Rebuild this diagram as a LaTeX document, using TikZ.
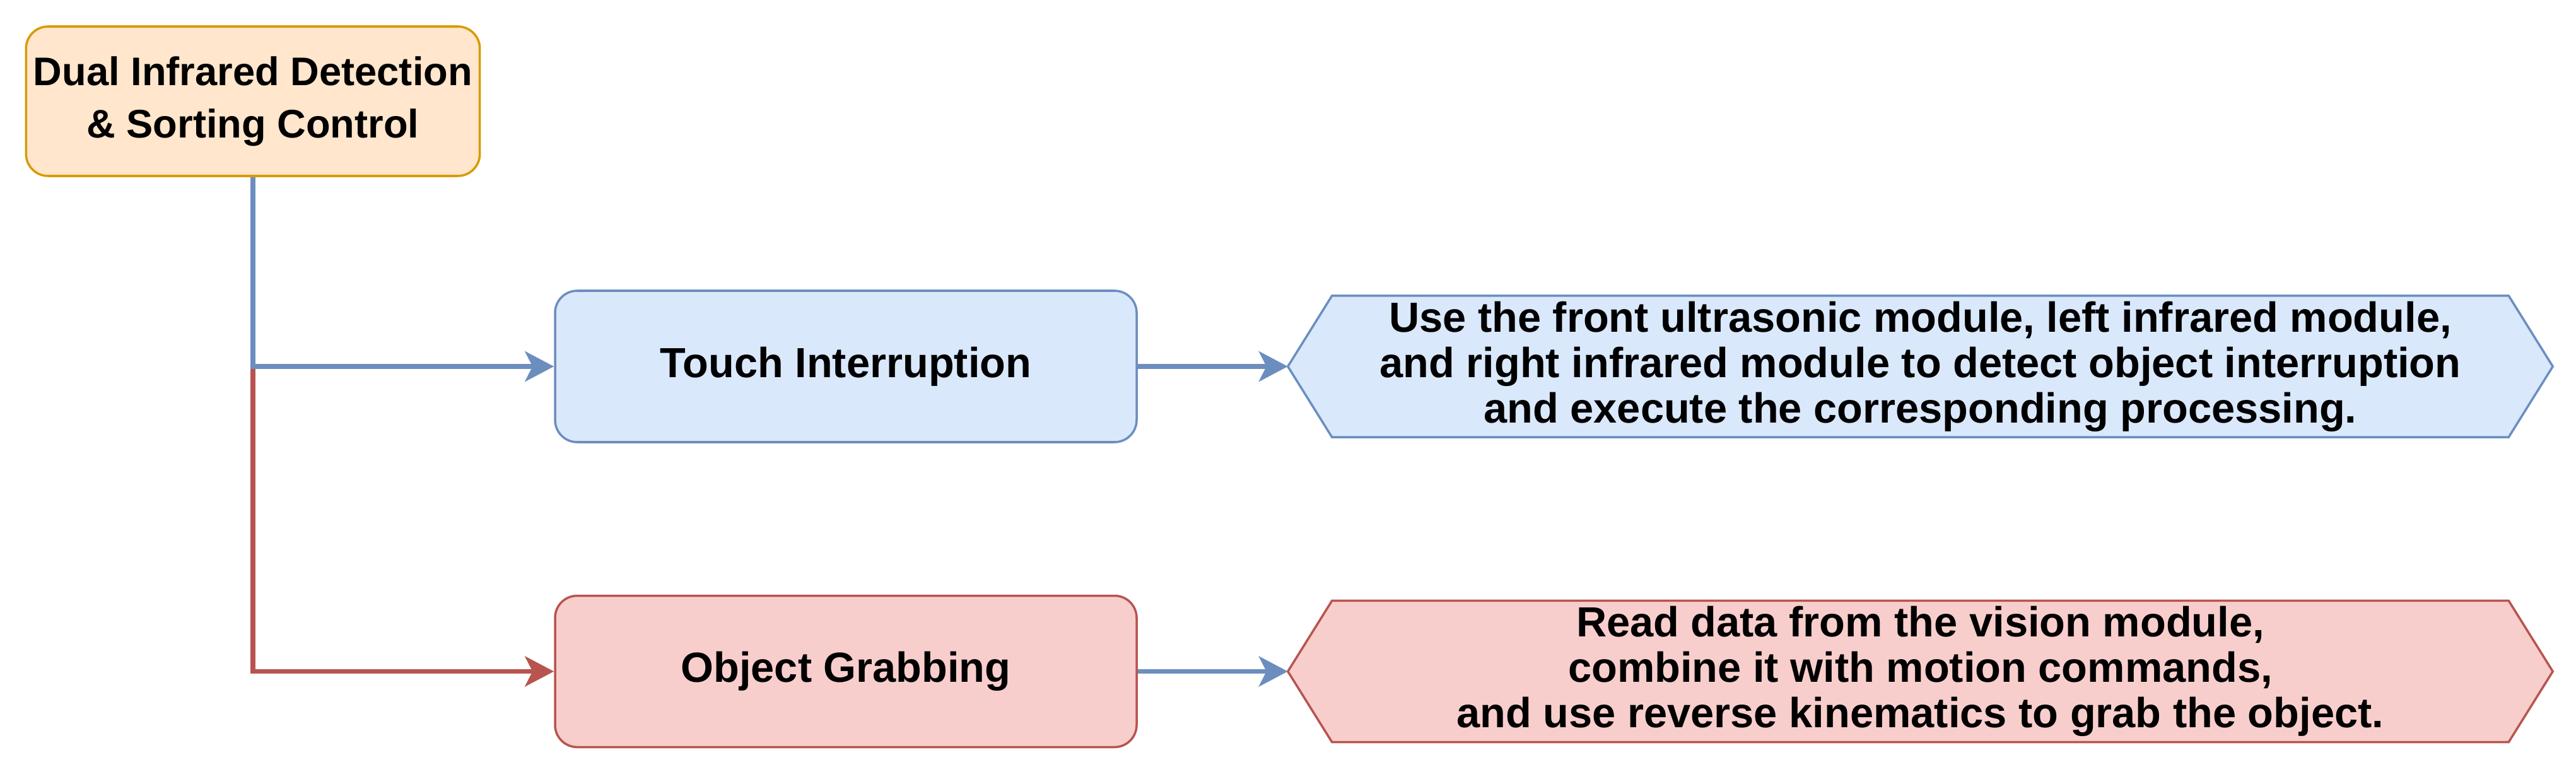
\documentclass[tikz,border=0pt]{standalone}
\usepackage{fontspec}
\setmainfont{Liberation Sans}
\usepackage{xcolor}
\usetikzlibrary{arrows.meta,positioning,backgrounds}

\definecolor{orangeFill}{HTML}{FFE6CC}
\definecolor{orangeLine}{HTML}{D79B00}
\definecolor{blueFill}{HTML}{DAE8FC}
\definecolor{blueLine}{HTML}{6C8EBF}
\definecolor{redFill}{HTML}{F8CECC}
\definecolor{redLine}{HTML}{B85450}

\begin{document}
\begin{tikzpicture}[
    module/.style={draw, rounded corners=0.35cm, line width=1pt, minimum width=9.22cm, minimum height=2.4cm, font=\fontsize{19}{20.5}\selectfont\bfseries, align=center},
    hexa/.style={minimum width=20.04cm, minimum height=2.23cm, inner sep=0pt, font=\fontsize{19}{20.5}\selectfont\bfseries, align=center},
    arr/.style={-{Stealth[length=0.46cm, width=0.48cm, inset=0.12cm]}, line width=2pt}
]
    \useasboundingbox (0,0) rectangle (40.84,-12.24);
    % Control block at the top left
    \node[module, fill=orangeFill, draw=orangeLine, minimum width=7.19cm, minimum height=2.37cm, font=\fontsize{18}{23.5}\selectfont\bfseries] (ctrl) at (4.01,-1.605) {Dual Infrared Detection\\\& Sorting Control};
    % The two functions
    \node[module, fill=blueFill, draw=blueLine] (touch) at (13.41,-5.81) {Touch Interruption};
    \node[module, fill=redFill, draw=redLine, below=2.4cm of touch] (grab) {Object Grabbing};
    % Descriptions on the right
    \node[hexa, right=2.38cm of touch] (touchinfo) {Use the front ultrasonic module, left infrared module,\\and right infrared module to detect object interruption\\and execute the corresponding processing.};
    \node[hexa, right=2.38cm of grab] (grabinfo) {Read data from the vision module,\\combine it with motion commands,\\and use reverse kinematics to grab the object.};
    % hexagon outlines behind the descriptions
    \begin{scope}[on background layer]
        \foreach \n/\col in {touchinfo/blue, grabinfo/red}
            \filldraw[line width=1pt, fill=\col Fill, draw=\col Line] (\n.west) -- ([xshift=0.7cm]\n.north west) -- ([xshift=-0.7cm]\n.north east) -- (\n.east) -- ([xshift=-0.7cm]\n.south east) -- ([xshift=0.7cm]\n.south west) -- cycle;
    \end{scope}

    % Branches from the control block
    \draw[arr, redLine] (ctrl.south) |- (grab.west);
    \draw[arr, blueLine] (ctrl.south) |- (touch.west);
    % Function to description
    \draw[arr, blueLine] (touch) -- (touchinfo);
    \draw[arr, blueLine] (grab) -- (grabinfo);
\end{tikzpicture}
\end{document}
